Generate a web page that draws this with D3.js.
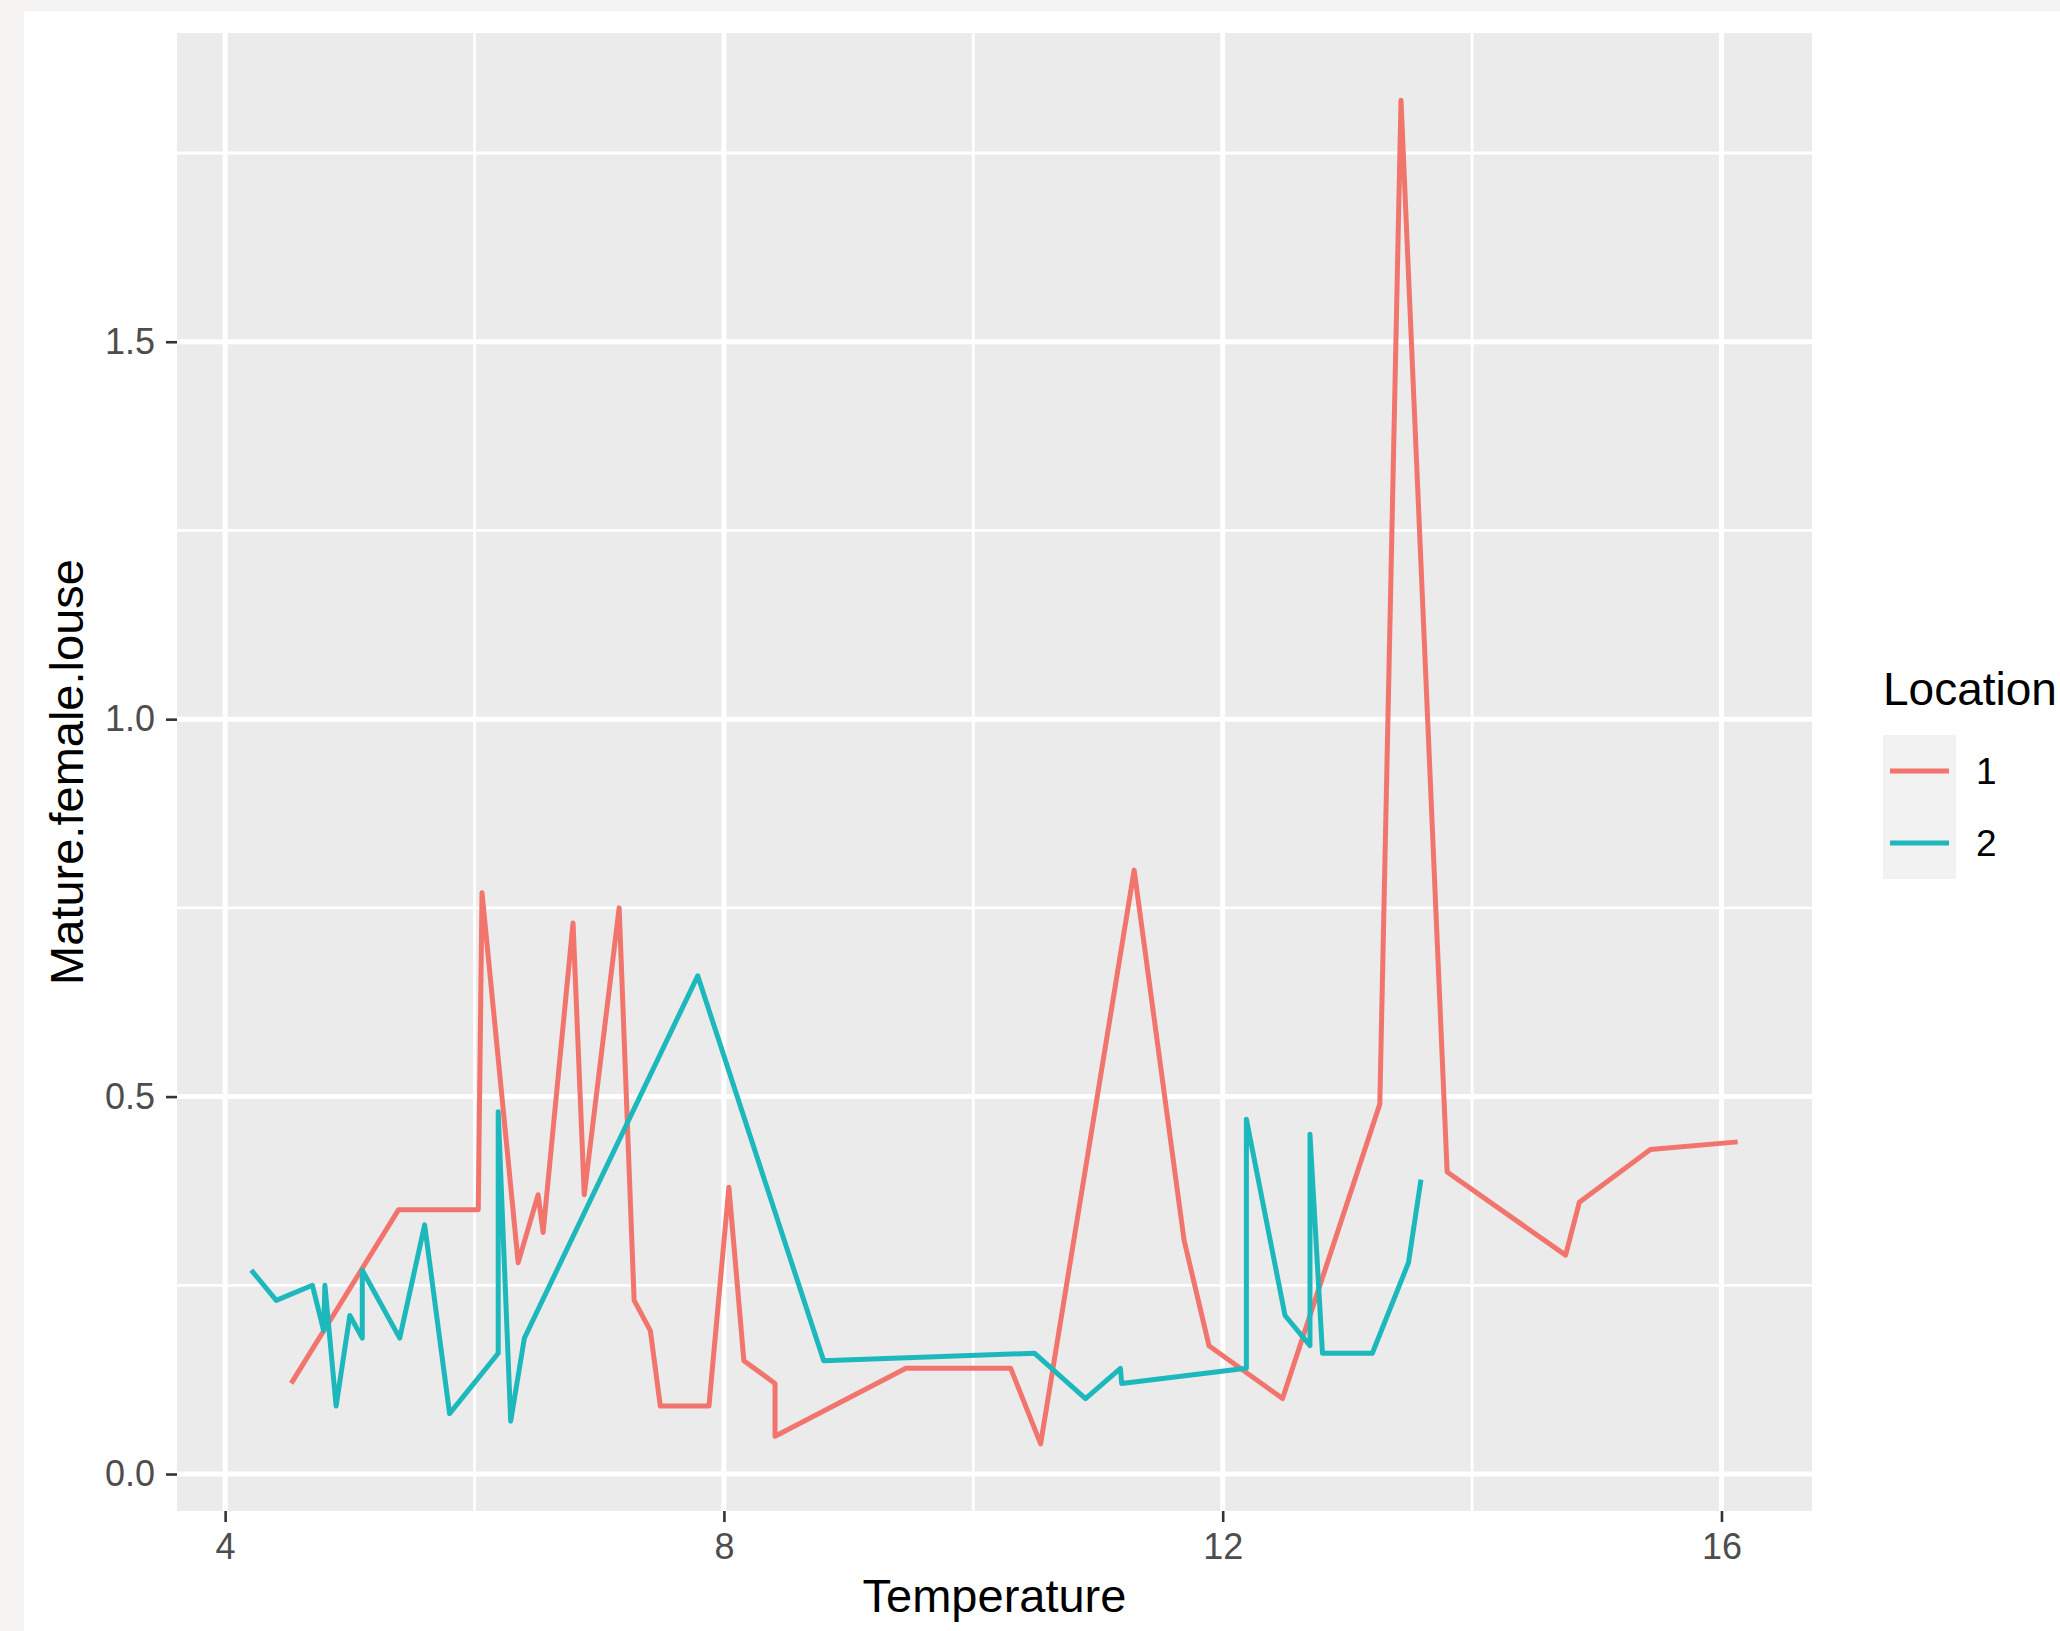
<!DOCTYPE html>
<html>
<head>
<meta charset="utf-8">
<script src="https://cdn.jsdelivr.net/npm/d3@7"></script>
<style>
    body { margin: 0; background: #f4f3f1; }
    text { font-family: "Liberation Sans", Arial, sans-serif; }
</style>
</head>
<body>
<div id="chart_container"></div>
<script>
/** Données : Location 1 */
var temperature_1 = [4.53, 5.39, 6.03, 6.06, 6.35, 6.51, 6.55, 6.79, 6.88, 7.16, 7.28, 7.41, 7.49, 7.88,
    8.04, 8.16, 8.41, 8.41, 9.46, 10.30, 10.54, 11.29, 11.69, 11.89, 12.48, 13.26, 13.43, 13.80,
    14.75, 14.86, 15.43, 16.13];
var louse_1 = [0.12, 0.35, 0.35, 0.77, 0.28, 0.37, 0.32, 0.73, 0.37, 0.75, 0.23, 0.19, 0.09, 0.09,
    0.38, 0.15, 0.12, 0.05, 0.14, 0.14, 0.04, 0.80, 0.31, 0.17, 0.10, 0.49, 1.82, 0.40,
    0.29, 0.36, 0.43, 0.44];

/** Location 2 */
var temperature_2 = [4.21, 4.41, 4.70, 4.79, 4.80, 4.89, 5.00, 5.10, 5.10, 5.40, 5.60, 5.80, 6.19, 6.19,
    6.29, 6.40, 7.79, 8.80, 10.49, 10.90, 11.18, 11.19, 12.19, 12.19, 12.50, 12.70, 12.70, 12.80,
    13.20, 13.49, 13.59];
var louse_2 = [0.27, 0.23, 0.25, 0.19, 0.25, 0.09, 0.21, 0.18, 0.27, 0.18, 0.33, 0.08, 0.16, 0.48,
    0.07, 0.18, 0.66, 0.15, 0.16, 0.10, 0.14, 0.12, 0.14, 0.47, 0.21, 0.17, 0.45, 0.16,
    0.16, 0.28, 0.39];

var locations = ["1", "2"];
var colors = ["#F1756C", "#1DB8BC"];

var x_ticks = [4, 8, 12, 16];
var x_minor = [6, 10, 14];
var y_ticks = [0, 0.5, 1.0, 1.5];
var y_minor = [0.25, 0.75, 1.25, 1.75];

/** Initialisation du SVG */
var width = 2060,
    height = 1631;

var svg = d3
    .select("#chart_container")
    .append("svg")
    .attr("width", width)
    .attr("height", height)
    .style("display", "block");

// fond gris autour, zone blanche du graphique
svg.append("rect").attr("width", width).attr("height", height).attr("fill", "#f4f3f1");
svg.append("rect").attr("x", 24).attr("y", 11)
    .attr("width", width - 24).attr("height", height - 11).attr("fill", "#ffffff");

/** Zone du panneau (attention : "top" est réservé par window) */
var panel_left = 177,
    panel_right = 1812,
    panel_top = 33,
    panel_bottom = 1511;

// même expansion de 5% que ggplot
function expand(values) {
    var ext = d3.extent(values);
    var pad = (ext[1] - ext[0]) * 0.05;
    return [ext[0] - pad, ext[1] + pad];
}

var x = d3.scaleLinear()
    .domain(expand(temperature_1.concat(temperature_2)))
    .range([panel_left, panel_right]);

var y = d3.scaleLinear()
    .domain(expand(louse_1.concat(louse_2)))
    .range([panel_bottom, panel_top]);

svg.append("rect")
    .attr("x", panel_left).attr("y", panel_top)
    .attr("width", panel_right - panel_left).attr("height", panel_bottom - panel_top)
    .attr("fill", "#EBEBEB");

var grid = svg.append("g");

// grille mineure
grid.selectAll(".xminor").data(x_minor).enter().append("line")
    .attr("x1", d => x(d)).attr("x2", d => x(d))
    .attr("y1", panel_top).attr("y2", panel_bottom)
    .attr("stroke", "#ffffff").attr("stroke-width", 2.8);
grid.selectAll(".yminor").data(y_minor).enter().append("line")
    .attr("y1", d => y(d)).attr("y2", d => y(d))
    .attr("x1", panel_left).attr("x2", panel_right)
    .attr("stroke", "#ffffff").attr("stroke-width", 2.8);

// grille majeure
grid.selectAll(".xmajor").data(x_ticks).enter().append("line")
    .attr("x1", d => x(d)).attr("x2", d => x(d))
    .attr("y1", panel_top).attr("y2", panel_bottom)
    .attr("stroke", "#ffffff").attr("stroke-width", 5);
grid.selectAll(".ymajor").data(y_ticks).enter().append("line")
    .attr("y1", d => y(d)).attr("y2", d => y(d))
    .attr("x1", panel_left).attr("x2", panel_right)
    .attr("stroke", "#ffffff").attr("stroke-width", 5);

/** Courbes */
var series = [
    { temps: temperature_1, values: louse_1 },
    { temps: temperature_2, values: louse_2 }
];

var line = d3.line()
    .x(d => x(d[0]))
    .y(d => y(d[1]));

series.forEach(function (s, i) {
    var points = s.temps.map((t, j) => [t, s.values[j]]);
    svg.append("path")
        .datum(points)
        .attr("d", line)
        .attr("fill", "none")
        .attr("stroke", colors[i])
        .attr("stroke-width", 5)
        .attr("stroke-linejoin", "round");
});

/** Axes */
var xAxis = svg.append("g")
    .attr("transform", "translate(0," + panel_bottom + ")")
    .call(d3.axisBottom(x).tickValues(x_ticks).tickSize(11).tickPadding(11).tickFormat(d3.format("d")));

var yAxis = svg.append("g")
    .attr("transform", "translate(" + panel_left + ",0)")
    .call(d3.axisLeft(y).tickValues(y_ticks).tickSize(11).tickPadding(11).tickFormat(d3.format(".1f")));

[xAxis, yAxis].forEach(function (ax) {
    ax.select(".domain").remove();
    ax.selectAll(".tick line").attr("stroke", "#333333").attr("stroke-width", 2.6);
    ax.selectAll(".tick text")
        .attr("fill", "#4D4D4D")
        .style("font-size", "36px")
        .style("font-family", "\"Liberation Sans\", Arial, sans-serif");
});

/** Titres des axes */
svg.append("text")
    .attr("x", (panel_left + panel_right) / 2)
    .attr("y", 1612)
    .attr("text-anchor", "middle")
    .style("font-size", "47px")
    .attr("fill", "#000000")
    .text("Temperature");

svg.append("text")
    .attr("transform", "translate(83," + (panel_top + panel_bottom) / 2 + ") rotate(-90)")
    .attr("text-anchor", "middle")
    .style("font-size", "47px")
    .attr("fill", "#000000")
    .text("Mature.female.louse");

/** Légende */
var legend = svg.append("g").attr("transform", "translate(1883,0)");

legend.append("text")
    .attr("x", 0)
    .attr("y", 705)
    .style("font-size", "46px")
    .attr("fill", "#000000")
    .text("Location");

var key = 72;
locations.forEach(function (loc, i) {
    var y0 = 735 + i * key;
    legend.append("rect")
        .attr("x", 0).attr("y", y0)
        .attr("width", 73).attr("height", key)
        .attr("fill", "#F2F2F2");
    legend.append("line")
        .attr("x1", 7).attr("x2", 66)
        .attr("y1", y0 + key / 2).attr("y2", y0 + key / 2)
        .attr("stroke", colors[i])
        .attr("stroke-width", 5);
    legend.append("text")
        .attr("x", 93)
        .attr("y", y0 + key / 2 + 13)
        .style("font-size", "37px")
        .attr("fill", "#000000")
        .text(loc);
});
</script>
</body>
</html>
